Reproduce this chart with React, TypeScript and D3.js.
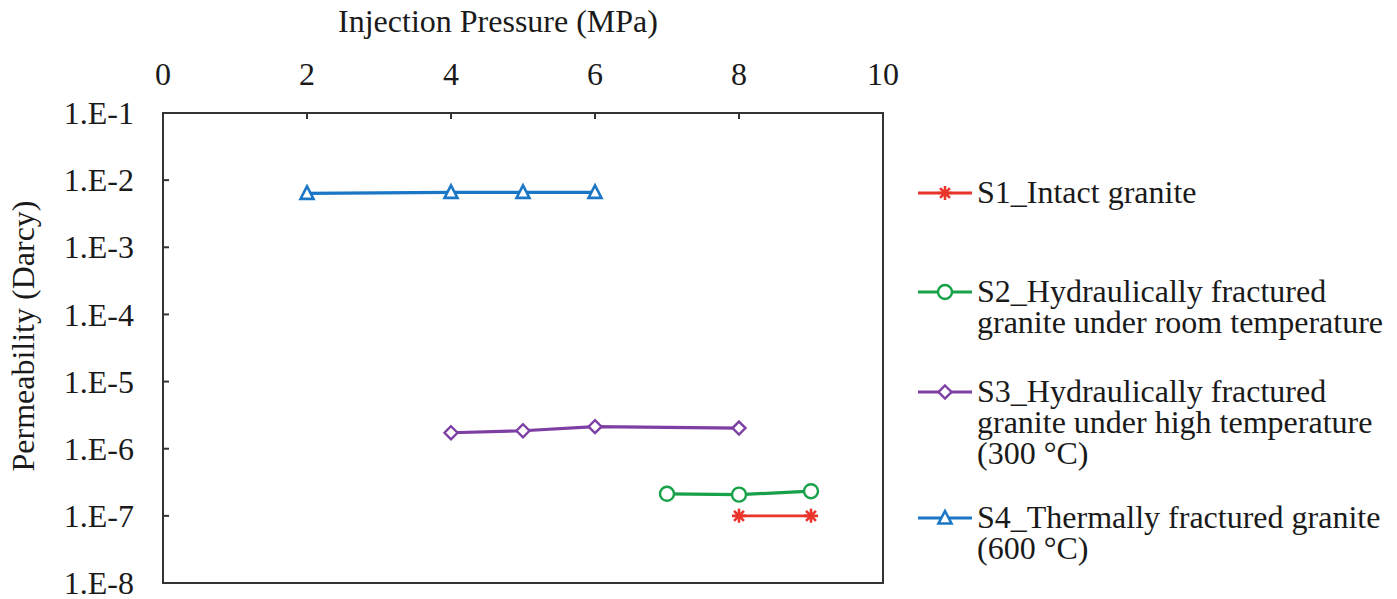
import React from "react";
import * as d3 from "d3";

const xTicks = [0, 2, 4, 6, 8, 10];
const yTicks = [1e-1, 1e-2, 1e-3, 1e-4, 1e-5, 1e-6, 1e-7, 1e-8];
const yTickLabels = ["1.E-1", "1.E-2", "1.E-3", "1.E-4", "1.E-5", "1.E-6", "1.E-7", "1.E-8"];

const s1X = [8, 9];
const s1Y = [1.0e-7, 1.0e-7];
const s2X = [7, 8, 9];
const s2Y = [2.13e-7, 2.07e-7, 2.33e-7];
const s3X = [4, 5, 6, 8];
const s3Y = [1.73e-6, 1.85e-6, 2.13e-6, 2.03e-6];
const s4X = [2, 4, 5, 6];
const s4Y = [6.35e-3, 6.58e-3, 6.58e-3, 6.58e-3];

const seriesNames = [
  ["S1_Intact granite"],
  ["S2_Hydraulically fractured", "granite under room temperature"],
  ["S3_Hydraulically fractured", "granite under high temperature", "(300 °C)"],
  ["S4_Thermally fractured granite", "(600 °C)"],
];
const colors = ["#e8342a", "#17a24a", "#7d3fa3", "#1b77c5"];
const markers = ["star", "circle", "diamond", "triangle"];

const W = 1397, H = 599;
const M = { left: 163, right: 883, top: 113, bottom: 583 };
const FONT = "'Liberation Serif', 'Times New Roman', serif";
const FS = 32;

function Marker({ type, x, y, color }: { type: string; x: number; y: number; color: string }) {
  if (type === "circle") return <circle cx={x} cy={y} r={7} fill="#fff" stroke={color} strokeWidth={2.4} />;
  if (type === "diamond")
    return <path d={`M${x},${y - 6.5}L${x + 6.5},${y}L${x},${y + 6.5}L${x - 6.5},${y}Z`} fill="#fff" stroke={color} strokeWidth={2.4} />;
  if (type === "triangle")
    return <path d={`M${x},${y - 7}L${x + 6.5},${y + 5.5}L${x - 6.5},${y + 5.5}Z`} fill="#fff" stroke={color} strokeWidth={2.6} />;
  const r = 7;
  const lines = [0, 45, 90, 135].map((a) => {
    const rad = (a * Math.PI) / 180;
    return `M${x - r * Math.cos(rad)},${y - r * Math.sin(rad)}L${x + r * Math.cos(rad)},${y + r * Math.sin(rad)}`;
  });
  return <path d={lines.join("")} stroke={color} strokeWidth={2.6} fill="none" />;
}

export default function App() {
  const x = d3.scaleLinear().domain([0, 10]).range([M.left, M.right]);
  const y = d3.scaleLog().domain([1e-8, 1e-1]).range([M.bottom, M.top]);
  const line = d3
    .line<[number, number]>()
    .x((d) => x(d[0]))
    .y((d) => y(d[1]));
  const series = [
    [s1X, s1Y],
    [s2X, s2Y],
    [s3X, s3Y],
    [s4X, s4Y],
  ].map(([xs, ys]) => xs.map((v, i) => [v, ys[i]] as [number, number]));
  const legendY = [193, 292, 392, 518];
  const lineH = 31;

  return (
    <svg width={W} height={H} style={{ position: "absolute", left: 0, top: 0, background: "#fff" }} fontFamily={FONT}>
      <rect x={0} y={0} width={W} height={H} fill="#fff" />
      <rect x={M.left} y={M.top} width={M.right - M.left} height={M.bottom - M.top} fill="none" stroke="#333" strokeWidth={2} />
      {xTicks.map((t) => (
        <g key={"xt" + t}>
          {t > 0 && t < 10 && <line x1={x(t)} x2={x(t)} y1={M.top} y2={M.top + 6} stroke="#333" strokeWidth={2} />}
          <text x={x(t)} y={85} textAnchor="middle" fontSize={FS} fill="#1a1a1a">
            {t}
          </text>
        </g>
      ))}
      {yTicks.map((t, i) => (
        <g key={"yt" + i}>
          {i > 0 && i < yTicks.length - 1 && <line x1={M.left} x2={M.left + 6} y1={y(t)} y2={y(t)} stroke="#333" strokeWidth={2} />}
          <text x={134} y={y(t)} dy="0.35em" textAnchor="end" fontSize={FS} fill="#1a1a1a">
            {yTickLabels[i]}
          </text>
        </g>
      ))}
      <text x={498} y={32} textAnchor="middle" fontSize={FS} fill="#1a1a1a">
        Injection Pressure (MPa)
      </text>
      <text transform={`translate(34,336) rotate(-90)`} textAnchor="middle" fontSize={FS} fill="#1a1a1a">
        Permeability (Darcy)
      </text>
      {series.map((pts, si) => (
        <g key={"s" + si}>
          <path d={line(pts) || ""} fill="none" stroke={colors[si]} strokeWidth={si === 0 ? 2.8 : 3.2} />
          {pts.map((p, j) => (
            <Marker key={j} type={markers[si]} x={x(p[0])} y={y(p[1])} color={colors[si]} />
          ))}
        </g>
      ))}
      {seriesNames.map((lines, si) => (
        <g key={"lg" + si}>
          <line x1={918} x2={972} y1={legendY[si]} y2={legendY[si]} stroke={colors[si]} strokeWidth={3} />
          <Marker type={markers[si]} x={945} y={legendY[si]} color={colors[si]} />
          {lines.map((l, k) => (
            <text key={k} x={977} y={legendY[si] + 10 + k * lineH} fontSize={FS} fill="#1a1a1a">
              {l}
            </text>
          ))}
        </g>
      ))}
    </svg>
  );
}
